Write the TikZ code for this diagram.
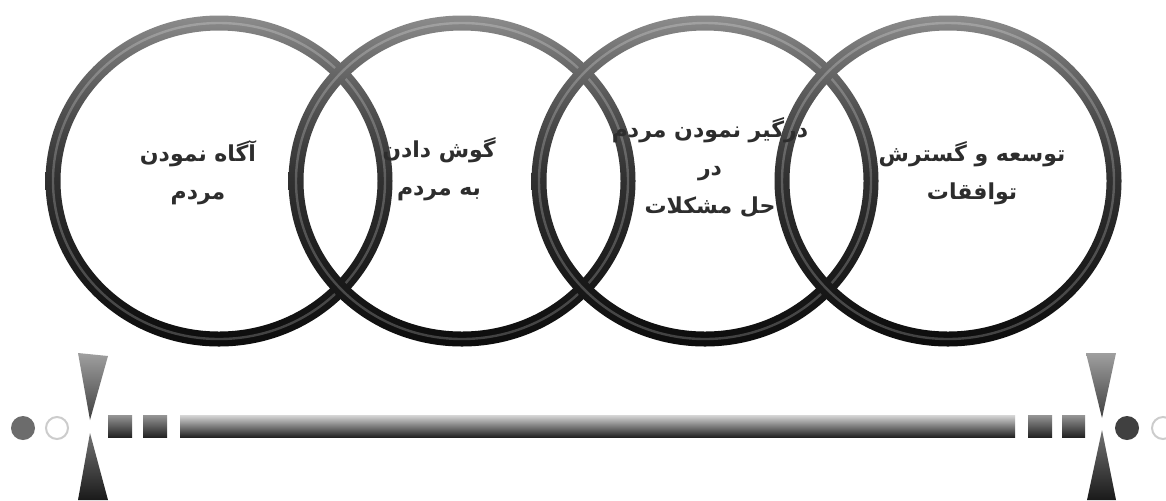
\documentclass[tikz,border=0pt]{standalone}
\usepackage{fontspec}
\newfontfamily\arabicfont[Script=Arabic]{DejaVu Sans}
\TeXXeTstate=1
\definecolor{rb}{RGB}{12,12,12}
\definecolor{rc}{RGB}{28,28,28}
\definecolor{rd}{RGB}{50,50,50}
\definecolor{re}{RGB}{78,78,78}
\definecolor{rf}{RGB}{112,112,112}
\definecolor{rg}{RGB}{140,140,140}
\definecolor{txt}{RGB}{45,45,45}
\definecolor{barTop}{RGB}{215,215,215}
\definecolor{barBot}{RGB}{35,35,35}
\definecolor{sqTop}{RGB}{150,150,150}
\pgfdeclareverticalshading{ringshade}{100bp}{color(0bp)=(rb); color(25bp)=(rb); color(37bp)=(rc); color(51bp)=(rd); color(60bp)=(re); color(69bp)=(rf); color(75bp)=(rg); color(100bp)=(rg)}
\tikzset{
  ring/.style={shading=ringshade, even odd rule},
  gleam/.style={white, opacity=0.22, line width=1.2pt},
  lbl/.style={font=\arabicfont\bfseries\fontsize{11}{19}\selectfont, text=txt, align=center, inner sep=0pt},
  barshade/.style={top color=barTop, bottom color=barBot},
  sqshade/.style={top color=sqTop, bottom color=barBot},
}
\begin{document}
\begin{tikzpicture}[x=0.5pt,y=-0.5pt]
\clip (0,0) rectangle (1166,500);
\fill[white] (0,0) rectangle (1166,500);
% rings
\foreach \cx/\n in {219/1,462/2,705/3,948/4} {
  \coordinate (c\n) at (\cx,181);
  \shade[ring] (c\n) ellipse [x radius=86.75pt, y radius=82.75pt]
               (c\n) ellipse [x radius=79.25pt, y radius=75.25pt];
  \draw[gleam] (c\n) ellipse [x radius=83pt, y radius=79pt];
}
% labels
\node[lbl] (t1) at (198,173) {\beginR آگاه نمودن\endR\\\beginR مردم\endR};
\node[lbl] (t2) at (439,169) {\beginR گوش دادن\endR\\\beginR به مردم\endR};
\node[lbl] (t3) at (710,167) {\beginR درگیر نمودن مردم\endR\\\beginR در\endR\\\beginR حل مشکلات\endR};
\node[lbl] (t4) at (972,173) {\beginR توسعه و گسترش\endR\\\beginR توافقات\endR};
% bottom axis
\shade[barshade] (180,415) rectangle (1015,437);
\shade[sqshade] (108,415) rectangle (132,437);
\shade[sqshade] (143,415) rectangle (167,437);
\shade[sqshade] (1028,415) rectangle (1052,437);
\shade[sqshade] (1062,415) rectangle (1085,437);
\fill[gray!85!black] (23,428) circle [radius=6pt];
\draw[gray!40, line width=1pt] (57,428) circle [radius=5.5pt];
\fill[black!75] (1127,428) circle [radius=6pt];
\draw[gray!40, line width=1pt] (1163,428) circle [radius=5.5pt];
% hourglass markers
\shade[top color=gray!75, bottom color=black!75] (78,353) -- (108,356) -- (90,420) -- cycle;
\shade[top color=black!55, bottom color=black!90] (90,433) -- (108,500) -- (78,500) -- cycle;
\shade[top color=gray!75, bottom color=black!75] (1086,353) -- (1116,353) -- (1102,418) -- cycle;
\shade[top color=black!55, bottom color=black!90] (1102,430) -- (1116,500) -- (1087,500) -- cycle;
\end{tikzpicture}
\end{document}
